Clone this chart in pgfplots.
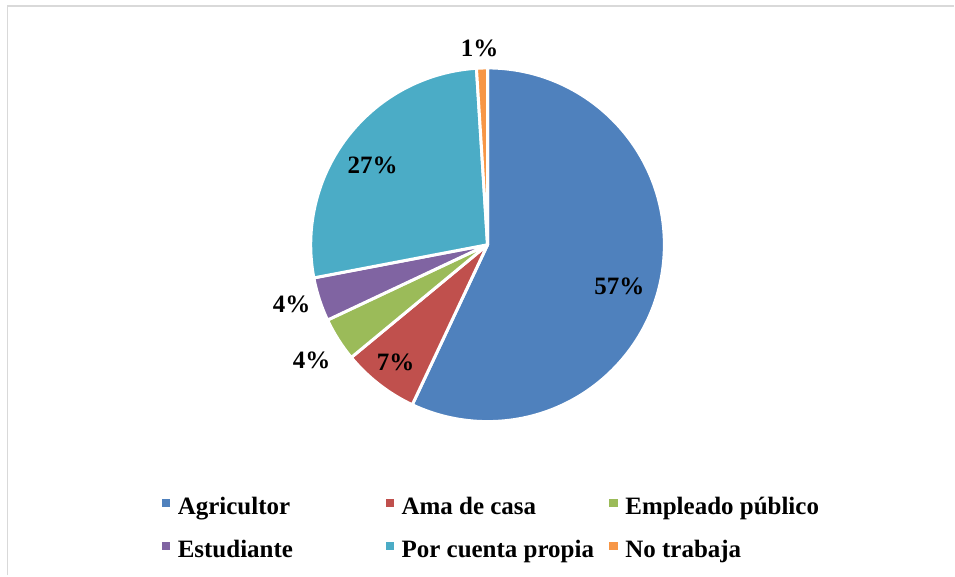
\documentclass[border=0pt]{standalone}
\usepackage{fontspec}
\setmainfont{Liberation Serif}
\usepackage{pgfplots}
\pgfplotsset{compat=1.18}
\definecolor{agr}{HTML}{4F81BD}
\definecolor{ama}{HTML}{C0504D}
\definecolor{emp}{HTML}{9BBB59}
\definecolor{est}{HTML}{8064A2}
\definecolor{por}{HTML}{4BACC6}
\definecolor{not}{HTML}{F79646}
\definecolor{marco}{HTML}{D9D9D9}
% slice: colour, cumulative % before, cumulative % after
\newcommand\slice[3]{\filldraw[fill=#1,draw=white,line width=3pt,line join=round]
  (axis cs:488,331) -- ++({90-3.6*#2}:177pt) arc[start angle={90-3.6*#2}, end angle={90-3.6*#3}, radius=177pt] -- cycle;}
\newcommand\entrada[1]{\makebox[215.5pt][l]{\hspace*{7.5pt}#1\strut}}
\begin{document}
\begin{tikzpicture}[font=\fontsize{25}{29}\selectfont\bfseries]
\begin{axis}[x=1pt,y=1pt,xmin=0,xmax=955,ymin=0,ymax=576,hide axis,clip=false,scale only axis,
  legend columns=3,legend cell align=left,
  legend style={draw=none,fill=none,at={(0.1696,0.1406)},anchor=north west,inner sep=0pt,outer sep=0pt,
    row sep=21pt,column sep=0pt,nodes={inner sep=0pt}},
  legend image code/.code={\fill[#1,draw=none] (0pt,-2pt) rectangle (8.5pt,6.5pt);}]
\path (axis cs:0,0) rectangle (axis cs:955,576);
\draw[marco,line width=1.8pt] (axis cs:7.5,0) -- (axis cs:7.5,570) -- (axis cs:955,570);

% Agricultor 57, Ama de casa 7, Empleado publico 4, Estudiante 4, Por cuenta propia 27, No trabaja 1
\slice{agr}{0}{57}
\slice{ama}{57}{64}
\slice{emp}{64}{68}
\slice{est}{68}{72}
\slice{por}{72}{99}
\slice{not}{99}{100}

\node at (axis cs:620,289) {57\%};
\node at (axis cs:396,213) {7\%};
\node at (axis cs:312,215) {4\%};
\node at (axis cs:292,271) {4\%};
\node at (axis cs:373,410) {27\%};
\node at (axis cs:480,528) {1\%};

\addlegendimage{fill=agr}\addlegendentry{\entrada{Agricultor}}
\addlegendimage{fill=ama}\addlegendentry{\entrada{Ama de casa}}
\addlegendimage{fill=emp}\addlegendentry{\entrada{Empleado público}}
\addlegendimage{fill=est}\addlegendentry{\entrada{Estudiante}}
\addlegendimage{fill=por}\addlegendentry{\entrada{Por cuenta propia}}
\addlegendimage{fill=not}\addlegendentry{\entrada{No trabaja}}
\end{axis}
\end{tikzpicture}
\end{document}
